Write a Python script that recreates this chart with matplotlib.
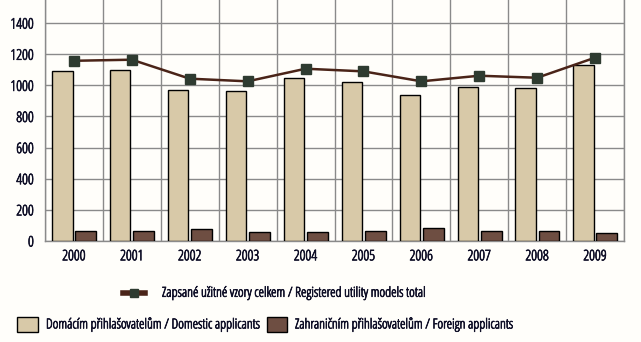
import matplotlib
matplotlib.use("Agg")
import matplotlib.pyplot as plt
import matplotlib.patheffects as pe
from matplotlib.lines import Line2D
from matplotlib.patches import Rectangle
import numpy as np

plt.rcParams['font.family'] = ['Open Sans', 'DejaVu Sans']
plt.rcParams['font.stretch'] = 'condensed'

years = ['2000', '2001', '2002', '2003', '2004', '2005', '2006', '2007', '2008', '2009']
domestic = [1092, 1098, 970, 963, 1047, 1021, 938, 989, 983, 1131]
foreign = [64, 64, 77, 58, 58, 64, 84, 64, 64, 51]
total = [1158, 1165, 1043, 1026, 1107, 1090, 1026, 1062, 1049, 1178]

lbl_total = 'Zapsané užitné vzory celkem / Registered utility models total'
lbl_dom = 'Domácím přihlašovatelům / Domestic applicants'
lbl_for = 'Zahraničním přihlašovatelům / Foreign applicants'

text_col = '#101028'
grid_col = '#8a8a8a'
dom_col = '#d8c9a8'
for_col = '#6e4e42'
line_col = '#4a2418'
mark_col = '#2e3b30'
bg = '#fffefa'

# the condensed face is light, so thicken glyphs a little with a stroke
heavier = [pe.withStroke(linewidth=0.5, foreground=text_col)]

W, H = 641, 342
fig = plt.figure(figsize=(W / 100, H / 100), dpi=100)
fig.patch.set_facecolor(bg)
ax = fig.add_axes([45 / W, 101 / H, 579 / W, 249 / H])
ax.set_facecolor(bg)

x = np.arange(len(years))
ax.bar(x - 0.2, domestic, width=0.35, color=dom_col, edgecolor='black', linewidth=1.0, zorder=3)
ax.bar(x + 0.205, foreign, width=0.36, color=for_col, edgecolor='black', linewidth=1.0, zorder=3)
ax.plot(x, total, color=line_col, linewidth=1.8, marker='s', markersize=6.5,
        markerfacecolor=mark_col, markeredgecolor=mark_col, zorder=4)

ax.set_xlim(-0.5, len(years) - 0.5)
ax.set_ylim(0, 1600)
ax.set_yticks(range(0, 1601, 200))
ax.set_xticks(x)
ax.set_xticklabels(years)
ax.set_xticks(np.arange(-0.5, len(years)), minor=True)
ax.tick_params(axis='both', which='both', length=0, labelsize=10.5, colors=text_col)
ax.tick_params(axis='x', pad=6)
ax.tick_params(axis='y', pad=8)
for t in ax.get_xticklabels() + ax.get_yticklabels():
    t.set_path_effects(heavier)
ax.grid(True, axis='y', which='major', color=grid_col, linewidth=1, zorder=0)
ax.grid(True, axis='x', which='minor', color=grid_col, linewidth=1, zorder=0)
for s in ax.spines.values():
    s.set_color(grid_col)
    s.set_linewidth(1)


def px(xp, yp):
    return xp / W, 1 - yp / H


# legend rows under the chart, placed in pixel units
fs = 9.9
y1 = 293
fig.add_artist(Line2D([123 / W, 145 / W], [1 - y1 / H] * 2, color=line_col, linewidth=4))
fig.add_artist(Line2D([134 / W], [1 - y1 / H], marker='s', markersize=6, color=mark_col,
                      linestyle='none'))
fig.text(*px(162, y1), lbl_total, fontsize=fs, color=text_col, va='center', ha='left',
         path_effects=heavier)

y2 = 324.5
for x0, x1, col, lbl in [(17, 38, dom_col, lbl_dom), (267, 287, for_col, lbl_for)]:
    fig.add_artist(Rectangle(px(x0, 332), (x1 - x0) / W, 15 / H, facecolor=col,
                             edgecolor='black', linewidth=1, transform=fig.transFigure))
    fig.text(*px(x1 + 8, y2), lbl, fontsize=fs, color=text_col, va='center', ha='left',
             path_effects=heavier)

fig.savefig('out.png', dpi=100, facecolor=fig.get_facecolor())
